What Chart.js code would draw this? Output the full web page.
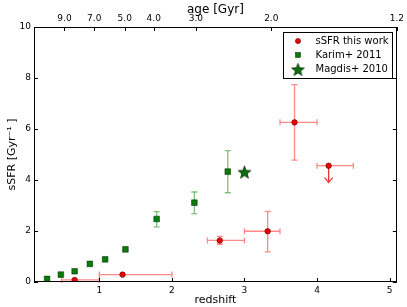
<!DOCTYPE html>
<html><head><meta charset="utf-8">
<script src="https://cdn.jsdelivr.net/npm/chart.js@4/dist/chart.umd.min.js"></script>
<style>html,body{margin:0;padding:0;background:#fff;overflow:hidden}</style>
</head><body>
<canvas id="c" width="407" height="307" style="width:407px;height:307px"></canvas>
<script>
// ---- data ----
const seriesNames = ['sSFR this work', 'Karim+ 2011', 'Magdis+ 2010'];
// this work
const thisZ    = [0.66, 1.32, 2.66, 3.32, 3.69, 4.16];
const thisSSFR = [0.08, 0.29, 1.63, 1.99, 6.26, 4.56];
const thisZlo  = [0.48, 1.00, 2.49, 3.00, 3.49, 4.00];
const thisZhi  = [1.00, 2.00, 3.00, 3.49, 4.00, 4.50];
const thisSlo  = [null, null, 1.48, 1.18, 4.78, null];
const thisShi  = [null, null, 1.79, 2.77, 7.74, null];
const thisLimitTo = [null, null, null, null, null, 3.90]; // upper limit arrow
// Karim+ 2011
const karimZ    = [0.28, 0.47, 0.66, 0.87, 1.08, 1.36, 1.79, 2.31, 2.77];
const karimSSFR = [0.12, 0.29, 0.42, 0.71, 0.89, 1.28, 2.47, 3.11, 4.33];
const karimLo   = [null, null, null, null, null, null, 2.16, 2.68, 3.50];
const karimHi   = [null, null, null, null, null, null, 2.76, 3.53, 5.15];
// Magdis+ 2010
const magdisZ    = [3.00];
const magdisSSFR = [4.31];
// axes
const zTicks = [1, 2, 3, 4, 5];
const yTicks = [0, 2, 4, 6, 8, 10];
const ageLabels = ['9.0', '7.0', '5.0', '4.0', '3.0', '2.0', '1.2'];
const ageTickZ  = [0.52, 0.93, 1.35, 1.75, 2.33, 3.37, 5.10];

const FONT = "'DejaVu Sans', sans-serif";

// filled star image
function makeStar(size, fill, stroke) {
  const c = document.createElement('canvas');
  c.width = size; c.height = size;
  const g = c.getContext('2d');
  const cx = size / 2, cy = size / 2 + 0.6, R = size / 2 - 0.8, r = R * 0.42;
  g.beginPath();
  for (let i = 0; i < 10; i++) {
    const a = -Math.PI / 2 + i * Math.PI / 5;
    const rad = i % 2 ? r : R;
    const x = cx + rad * Math.cos(a), y = cy + rad * Math.sin(a);
    i ? g.lineTo(x, y) : g.moveTo(x, y);
  }
  g.closePath();
  g.fillStyle = fill; g.fill();
  g.lineWidth = 0.7; g.strokeStyle = stroke; g.stroke();
  return c;
}
const starImg = makeStar(15, '#0c6e0c', '#022002');

const RED = '#ee0000', GREEN = '#0a7a0a';
const RED_ERR = 'rgba(255,40,40,0.55)', GREEN_ERR = 'rgba(20,140,20,0.55)';

const deco = {
  id: 'deco',
  beforeDatasetsDraw(chart) {
    const ctx = chart.ctx, xs = chart.scales.x, ys = chart.scales.y;
    const cap = 3;
    ctx.save();
    ctx.lineWidth = 1.3;
    // red error bars
    ctx.strokeStyle = RED_ERR;
    thisZ.forEach((z, i) => {
      const y = ys.getPixelForValue(thisSSFR[i]);
      const x0 = xs.getPixelForValue(thisZlo[i]), x1 = xs.getPixelForValue(thisZhi[i]);
      ctx.beginPath();
      ctx.moveTo(x0, y); ctx.lineTo(x1, y);
      ctx.moveTo(x0, y - cap); ctx.lineTo(x0, y + cap);
      ctx.moveTo(x1, y - cap); ctx.lineTo(x1, y + cap);
      ctx.stroke();
      if (thisSlo[i] !== null) {
        const x = xs.getPixelForValue(z);
        const y0 = ys.getPixelForValue(thisSlo[i]), y1 = ys.getPixelForValue(thisShi[i]);
        ctx.beginPath();
        ctx.moveTo(x, y0); ctx.lineTo(x, y1);
        ctx.moveTo(x - cap, y0); ctx.lineTo(x + cap, y0);
        ctx.moveTo(x - cap, y1); ctx.lineTo(x + cap, y1);
        ctx.stroke();
      }
    });
    // upper-limit arrows
    ctx.strokeStyle = 'rgba(230,0,0,0.8)';
    thisZ.forEach((z, i) => {
      if (thisLimitTo[i] === null) return;
      const x = xs.getPixelForValue(z);
      const y0 = ys.getPixelForValue(thisSSFR[i]), y1 = ys.getPixelForValue(thisLimitTo[i]);
      ctx.beginPath();
      ctx.moveTo(x, y0); ctx.lineTo(x, y1);
      ctx.moveTo(x - 4, y1 - 5); ctx.lineTo(x, y1); ctx.lineTo(x + 4, y1 - 5);
      ctx.stroke();
    });
    // green error bars
    ctx.strokeStyle = GREEN_ERR;
    karimZ.forEach((z, i) => {
      if (karimLo[i] === null) return;
      const x = xs.getPixelForValue(z);
      const y0 = ys.getPixelForValue(karimLo[i]), y1 = ys.getPixelForValue(karimHi[i]);
      ctx.beginPath();
      ctx.moveTo(x, y0); ctx.lineTo(x, y1);
      ctx.moveTo(x - cap, y0); ctx.lineTo(x + cap, y0);
      ctx.moveTo(x - cap, y1); ctx.lineTo(x + cap, y1);
      ctx.stroke();
    });
    ctx.restore();
  },
  afterDraw(chart) {
    const ctx = chart.ctx, a = chart.chartArea;
    const xs = chart.scales.x, ys = chart.scales.y;
    ctx.save();
    ctx.strokeStyle = '#000';
    ctx.lineWidth = 1;
    ctx.strokeRect(Math.round(a.left) + 0.5, Math.round(a.top) + 0.5,
      Math.round(a.right - a.left) - 1, Math.round(a.bottom - a.top) - 1);
    const tl = 4;
    ctx.beginPath();
    zTicks.forEach(v => {
      const x = Math.round(xs.getPixelForValue(v)) + 0.5;
      ctx.moveTo(x, a.bottom); ctx.lineTo(x, a.bottom - tl);
    });
    ageTickZ.forEach(v => {
      const x = Math.round(xs.getPixelForValue(v)) + 0.5;
      ctx.moveTo(x, a.top); ctx.lineTo(x, a.top + tl);
    });
    yTicks.forEach(v => {
      const y = Math.round(ys.getPixelForValue(v)) + 0.5;
      ctx.moveTo(a.left, y); ctx.lineTo(a.left + tl, y);
      ctx.moveTo(a.right, y); ctx.lineTo(a.right - tl, y);
    });
    ctx.stroke();
    // legend
    const lx = 283.5, ly = 32.5, lw = 109, lh = 46;
    ctx.fillStyle = '#fff';
    ctx.fillRect(lx, ly, lw, lh);
    ctx.strokeStyle = '#000';
    ctx.strokeRect(lx, ly, lw, lh);
    const rows = [41, 55, 69.5];
    ctx.font = '10px ' + FONT;
    ctx.textBaseline = 'middle';
    ctx.textAlign = 'left';
    ctx.fillStyle = '#000';
    seriesNames.forEach((n, i) => ctx.fillText(n, 315.5, rows[i]));
    // markers
    ctx.beginPath(); ctx.arc(298, rows[0], 2.6, 0, Math.PI * 2);
    ctx.fillStyle = RED; ctx.fill(); ctx.lineWidth = 0.5; ctx.strokeStyle = '#300'; ctx.stroke();
    ctx.fillStyle = GREEN; ctx.fillRect(295.5, rows[1] - 2.5, 5, 5);
    ctx.strokeStyle = '#020'; ctx.strokeRect(295.5, rows[1] - 2.5, 5, 5);
    ctx.drawImage(starImg, 298 - 7.5, rows[2] - 7.5);
    ctx.restore();
  }
};

new Chart(document.getElementById('c'), {
  type: 'scatter',
  data: {
    datasets: [
      {
        label: seriesNames[0],
        data: thisZ.map((z, i) => ({ x: z, y: thisSSFR[i] })),
        pointStyle: 'circle', pointRadius: 2.8,
        backgroundColor: RED, borderColor: '#300', borderWidth: 0.5
      },
      {
        label: seriesNames[1],
        data: karimZ.map((z, i) => ({ x: z, y: karimSSFR[i] })),
        pointStyle: 'rect', pointRadius: 4,
        backgroundColor: GREEN, borderColor: '#020', borderWidth: 0.5
      },
      {
        label: seriesNames[2],
        data: magdisZ.map((z, i) => ({ x: z, y: magdisSSFR[i] })),
        pointStyle: starImg, pointRadius: 7
      }
    ]
  },
  options: {
    responsive: false,
    animation: false,
    events: [],
    layout: { padding: { right: 10, left: 0, top: 0, bottom: 0 } },
    plugins: { legend: { display: false }, tooltip: { enabled: false } },
    scales: {
      x: {
        type: 'linear', position: 'bottom', min: 0.1, max: 5.1,
        afterBuildTicks: s => { s.ticks = zTicks.map(v => ({ value: v })); },
        afterFit: s => { s.height = 25; },
        grid: { display: false, drawTicks: false },
        border: { display: false },
        ticks: { color: '#000', font: { family: FONT, size: 9 }, padding: 3, maxRotation: 0, callback: v => String(v) },
        title: { display: true, text: 'redshift', color: '#000', font: { family: FONT, size: 11 }, padding: { top: 0, bottom: 0 } }
      },
      x2: {
        type: 'linear', position: 'top', min: 0.1, max: 5.1,
        afterBuildTicks: s => { s.ticks = ageTickZ.map(v => ({ value: v })); },
        afterFit: s => { s.height = 27; },
        grid: { display: false, drawTicks: false },
        border: { display: false },
        ticks: { color: '#000', font: { family: FONT, size: 9 }, padding: 3, maxRotation: 0,
          callback: (v, i) => ageLabels[i] },
        title: { display: true, text: 'age [Gyr]', color: '#000', font: { family: FONT, size: 12 }, padding: { top: 3, bottom: 0 } }
      },
      y: {
        type: 'linear', position: 'left', min: 0, max: 10,
        afterBuildTicks: s => { s.ticks = yTicks.map(v => ({ value: v })); },
        afterFit: s => { s.width = 34; },
        grid: { display: false, drawTicks: false },
        border: { display: false },
        ticks: { color: '#000', font: { family: FONT, size: 9 }, padding: 3, callback: v => String(v) },
        title: { display: true, text: 'sSFR [Gyr⁻¹ ]', color: '#000', font: { family: FONT, size: 11 }, padding: { top: 6, bottom: 0 } }
      }
    }
  },
  plugins: [deco]
});
</script>
</body></html>
